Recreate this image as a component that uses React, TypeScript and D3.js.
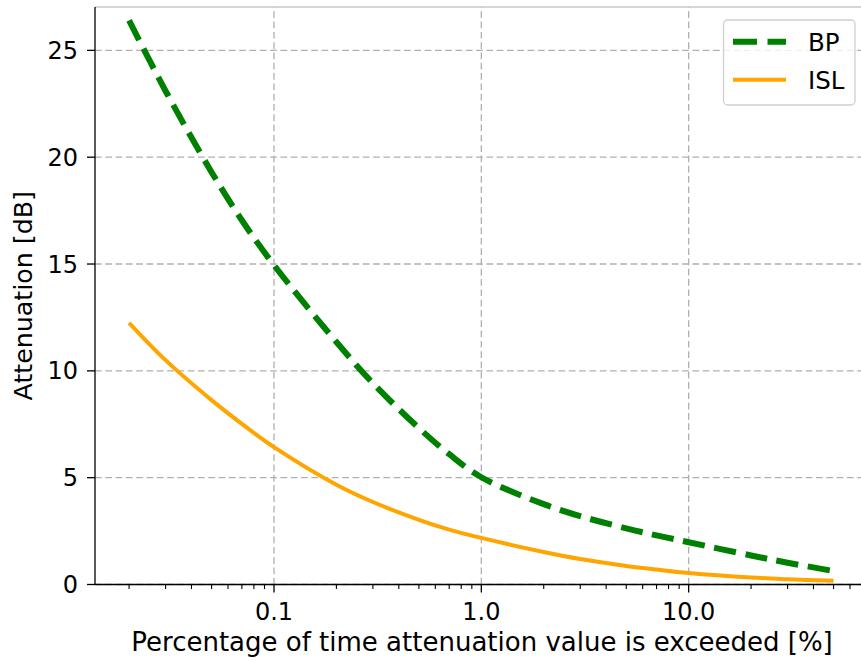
import { useEffect, useRef } from "react";
import * as d3 from "d3";

// percentage of time (x) and attenuation values
const percentages = [0.02, 0.03, 0.05, 0.07, 0.1, 0.2, 0.3, 0.5, 0.7, 1, 2, 3, 5, 7, 10, 20, 30, 50];
const bpValues = [26.4, 23.1, 19.3, 17.05, 14.95, 11.35, 9.42, 7.32, 6.1, 5.02, 3.76, 3.2, 2.63, 2.3, 1.98, 1.36, 1.02, 0.63];
const islValues = [12.25, 10.5, 8.63, 7.52, 6.43, 4.67, 3.86, 3.03, 2.57, 2.18, 1.52, 1.19, 0.87, 0.7, 0.54, 0.33, 0.25, 0.17];

const xTicks = [0.1, 1, 10];
const yTicks = [0, 5, 10, 15, 20, 25];
const xDomain = [0.0137, 74.1];
const yDomain = [0, 27.03];

const seriesList = [
  { name: "BP", values: bpValues, color: "#008000", width: 6, dash: "22.2,9.6" },
  { name: "ISL", values: islValues, color: "#ffa500", width: 4, dash: null },
];

const FONT = "'DejaVu Sans', sans-serif";

export default function App() {
  const ref = useRef<SVGSVGElement>(null);
  const width = 861;
  const height = 661;

  useEffect(() => {
    const svg = d3.select(ref.current);
    svg.selectAll("*").remove();

    const left = 95;
    const right = 869;
    const top = 7;
    const bottom = 584.5;

    const x = d3.scaleLog().domain(xDomain).range([left, right]);
    const y = d3.scaleLinear().domain(yDomain).range([bottom, top]);

    svg.append("rect").attr("width", width).attr("height", height).attr("fill", "#fff");

    // grid
    const grid = svg.append("g").attr("stroke", "#b0b0b0").attr("stroke-width", 1.3).attr("stroke-dasharray", "6.7,3.6");
    xTicks.forEach((t) => {
      grid.append("line").attr("x1", x(t)).attr("x2", x(t)).attr("y1", bottom).attr("y2", top);
    });
    yTicks.forEach((t) => {
      grid.append("line").attr("x1", left).attr("x2", right).attr("y1", y(t)).attr("y2", y(t));
    });

    // lines
    const line = d3
      .line<number>()
      .x((_, i) => x(percentages[i]))
      .y((d) => y(d))
      .curve(d3.curveCatmullRom.alpha(0.5));

    seriesList.forEach((s) => {
      svg
        .append("path")
        .attr("d", line(s.values))
        .attr("fill", "none")
        .attr("stroke", s.color)
        .attr("stroke-width", s.width)
        .attr("stroke-dasharray", s.dash)
        .attr("stroke-linejoin", "round");
    });

    // spines
    svg.append("line").attr("x1", left).attr("x2", right).attr("y1", top).attr("y2", top).attr("stroke", "#c8c8c8").attr("stroke-width", 1.3);
    svg.append("line").attr("x1", left).attr("x2", left).attr("y1", top).attr("y2", bottom).attr("stroke", "#000").attr("stroke-width", 1.3);

    // x axis
    const xAxis = svg.append("g").attr("transform", `translate(0,${bottom})`);
    xAxis.append("line").attr("x1", left).attr("x2", right).attr("stroke", "#000").attr("stroke-width", 1.3);
    const minor: number[] = [];
    [0.01, 0.1, 1, 10].forEach((dec) => {
      for (let k = 2; k <= 9; k++) {
        const v = dec * k;
        if (v >= xDomain[0] && v <= xDomain[1]) minor.push(v);
      }
    });
    minor.forEach((v) => {
      xAxis.append("line").attr("x1", x(v)).attr("x2", x(v)).attr("y1", 0).attr("y2", 4.6).attr("stroke", "#000").attr("stroke-width", 1.1);
    });
    xTicks.forEach((t) => {
      xAxis.append("line").attr("x1", x(t)).attr("x2", x(t)).attr("y1", 0).attr("y2", 8).attr("stroke", "#000").attr("stroke-width", 1.3);
      xAxis
        .append("text")
        .attr("x", x(t))
        .attr("y", 35.5)
        .attr("text-anchor", "middle")
        .attr("font-family", FONT)
        .attr("font-size", 24)
        .text(d3.format(".1f")(t));
    });

    // y axis
    yTicks.forEach((t) => {
      svg.append("line").attr("x1", left - 8).attr("x2", left).attr("y1", y(t)).attr("y2", y(t)).attr("stroke", "#000").attr("stroke-width", 1.3);
      svg
        .append("text")
        .attr("x", left - 17)
        .attr("y", y(t))
        .attr("dy", "0.36em")
        .attr("text-anchor", "end")
        .attr("font-family", FONT)
        .attr("font-size", 24)
        .text(t);
    });

    // axis labels
    svg
      .append("text")
      .attr("x", (left + right) / 2)
      .attr("y", 651)
      .attr("text-anchor", "middle")
      .attr("font-family", FONT)
      .attr("font-size", 26)
      .text("Percentage of time attenuation value is exceeded [%]");
    svg
      .append("text")
      .attr("transform", `translate(32,${(top + bottom) / 2}) rotate(-90)`)
      .attr("text-anchor", "middle")
      .attr("font-family", FONT)
      .attr("font-size", 25.3)
      .text("Attenuation [dB]");

    // legend
    const legend = svg.append("g").attr("transform", "translate(723.5,20)");
    legend
      .append("rect")
      .attr("width", 131.5)
      .attr("height", 85)
      .attr("rx", 4)
      .attr("fill", "#fff")
      .attr("fill-opacity", 0.8)
      .attr("stroke", "#d0d0d0")
      .attr("stroke-width", 1.3);
    seriesList.forEach((s, i) => {
      const ly = 21.7 + i * 38;
      legend
        .append("line")
        .attr("x1", 9.5)
        .attr("x2", 62.5)
        .attr("y1", ly)
        .attr("y2", ly)
        .attr("stroke", s.color)
        .attr("stroke-width", s.width)
        .attr("stroke-dasharray", s.dash ? "24,10.5" : null);
      legend
        .append("text")
        .attr("x", 84.5)
        .attr("y", ly)
        .attr("dy", "0.36em")
        .attr("font-family", FONT)
        .attr("font-size", 24.5)
        .text(s.name);
    });
  }, []);

  return (
    <svg
      ref={ref}
      width={width}
      height={height}
      style={{ position: "absolute", left: 0, top: 0 }}
    />
  );
}
